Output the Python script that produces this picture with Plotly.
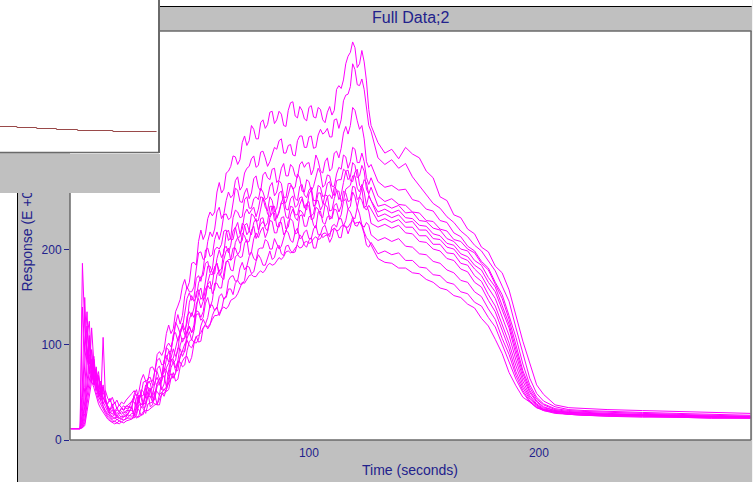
import plotly.graph_objects as go

W, H = 753, 482

# ---------------- data ----------------
time_s = [-3.5, -1, 0.5,
          1.5, 2.5, 3.5, 4.5, 5.5, 6.5, 7.5, 8.5, 9.5, 10.5,
          11.5, 12.5, 13.5, 14.5, 15.5, 16.5, 17.5, 18.5, 19.5, 20.5,
          23, 25, 27, 29, 31, 33, 35, 37, 39, 41, 43, 45, 47, 49, 51, 53, 55, 57, 59, 61,
          63, 65, 67, 69, 71, 73, 75, 77, 79, 81, 83, 85, 87, 89, 91, 93, 95, 97, 99, 101,
          103, 105, 107, 109, 111, 113, 115, 117, 119, 121, 123, 125, 127,
          130, 133, 136, 139, 142, 145, 148, 151, 154, 157, 160, 163, 166, 169, 172, 175,
          178, 181, 184, 187, 190, 193, 196, 199, 202,
          207, 213, 220, 230, 245, 260, 275, 292]

# extra samples in the noisy association phase
time_mid = [24, 26, 28, 30, 32, 34, 36, 38, 40, 42, 44, 46, 48, 50, 52, 54, 56, 58, 60, 62,
            64, 66, 68, 70, 72, 74, 76, 78, 80, 82, 84, 86, 88, 90, 92, 94, 96, 98, 100, 102,
            104, 106, 108, 110, 112, 114, 116, 118, 120, 122, 124, 126]

resp_01 = [12, 12, 12,
           140, 95, 120, 70, 85, 60, 72, 55, 62, 48, 52, 44, 40, 45, 38, 42, 36, 40, 38, 42,
           49, 46, 63, 62, 76, 72, 93, 95, 121, 117, 141, 162, 159, 186, 184, 221, 217, 240, 240, 271,
           264, 283, 299, 290, 313, 310, 331, 317, 334, 328, 345, 333, 346, 331, 347, 356, 339, 347, 336, 352,
           339, 348, 334, 351, 347, 373, 379, 404, 419, 392, 410, 378, 331,
           313, 302, 306, 296, 308, 301, 297, 283, 276, 256, 252, 237, 234, 222, 217, 203,
           198, 183, 176, 158, 131, 104, 81, 58, 48,
           37, 34, 33, 32, 31, 30, 29, 28]
mid_01 = [52, 50, 69, 63, 77, 90, 89, 112, 112, 135, 148, 169, 166, 187, 209, 211, 233, 236, 261, 260,
          281, 288, 298, 295, 320, 315, 327, 317, 337, 332, 346, 337, 343, 330, 355, 341, 351, 338, 350, 340,
          350, 337, 345, 342, 369, 370, 396, 408, 413, 396, 398, 348]

resp_02 = [12, 12, 12,
           186, 120, 90, 105, 62, 78, 55, 66, 48, 58, 42, 38, 44, 35, 40, 33, 37, 34, 36, 33,
           35, 53, 48, 62, 54, 73, 86, 80, 102, 106, 132, 131, 161, 156, 180, 198, 192, 219, 222, 245,
           238, 261, 258, 277, 267, 286, 296, 287, 303, 297, 293, 308, 315, 302, 310, 300, 315, 320, 308, 320,
           308, 327, 324, 319, 337, 328, 357, 364, 396, 374, 380, 347, 325,
           297, 290, 295, 286, 291, 277, 268, 259, 249, 244, 235, 229, 220, 214, 205, 199,
           188, 178, 162, 146, 118, 90, 65, 49, 41,
           35, 32, 31, 30, 29, 28, 27, 26]
mid_02 = [48, 43, 61, 55, 55, 84, 79, 98, 98, 122, 122, 152, 156, 161, 197, 190, 209, 214, 240, 233,
          252, 255, 273, 263, 281, 288, 299, 289, 304, 288, 302, 306, 317, 302, 311, 299, 320, 308, 319, 307,
          321, 322, 328, 319, 338, 337, 363, 372, 390, 373, 369, 331]

resp_03 = [12, 12, 12,
           60, 150, 85, 110, 70, 58, 75, 50, 60, 45, 40, 36, 32, 38, 30, 34, 29, 33, 31, 35,
           41, 37, 53, 44, 62, 73, 64, 84, 82, 111, 119, 118, 149, 147, 170, 167, 200, 193, 211, 211,
           237, 232, 249, 263, 250, 265, 260, 278, 262, 282, 274, 286, 274, 291, 278, 287, 276, 293, 291, 279,
           300, 283, 293, 283, 302, 297, 323, 322, 350, 336, 331, 293, 290,
           272, 266, 268, 263, 264, 253, 251, 243, 241, 231, 229, 218, 214, 204, 199, 188,
           181, 166, 153, 131, 108, 80, 58, 45, 38,
           33, 31, 30, 29, 28, 27, 26, 25]
mid_03 = [46, 39, 51, 61, 62, 72, 67, 89, 93, 124, 112, 135, 155, 150, 173, 179, 202, 195, 219, 221,
          238, 234, 265, 251, 260, 254, 275, 266, 279, 276, 285, 271, 286, 278, 290, 278, 290, 287, 292, 285,
          294, 281, 297, 286, 304, 307, 330, 331, 347, 327, 317, 287]

resp_04 = [12, 12, 12,
           45, 100, 135, 80, 95, 65, 52, 68, 47, 55, 40, 36, 31, 35, 28, 32, 30, 34, 32, 36,
           34, 48, 38, 55, 66, 58, 78, 71, 93, 111, 104, 123, 123, 152, 150, 172, 186, 176, 200, 201,
           220, 210, 234, 240, 235, 256, 244, 256, 265, 253, 267, 257, 273, 256, 270, 264, 280, 262, 274, 262,
           278, 281, 269, 278, 267, 287, 300, 286, 308, 292, 302, 276, 276,
           257, 251, 254, 248, 247, 240, 239, 231, 230, 222, 220, 211, 209, 201, 197, 186,
           179, 164, 149, 127, 101, 73, 55, 43, 37,
           32, 30, 29, 28, 27, 26, 25, 25]
mid_04 = [47, 40, 38, 65, 58, 75, 68, 85, 93, 113, 111, 116, 145, 146, 165, 173, 188, 180, 203, 206,
          221, 213, 242, 234, 253, 244, 254, 253, 261, 255, 271, 261, 270, 255, 270, 266, 276, 261, 272, 267,
          286, 266, 279, 267, 280, 285, 298, 293, 306, 292, 293, 269]

resp_05 = [12, 12, 12,
           30, 80, 110, 125, 75, 88, 60, 50, 42, 108, 45, 35, 30, 27, 31, 25, 29, 27, 30, 28,
           41, 33, 46, 58, 45, 61, 59, 81, 95, 86, 107, 103, 130, 130, 156, 148, 168, 183, 175, 200,
           197, 221, 211, 229, 222, 243, 242, 235, 256, 245, 256, 240, 260, 249, 258, 266, 252, 269, 255, 266,
           252, 266, 258, 272, 257, 274, 285, 274, 292, 276, 289, 264, 266,
           246, 248, 244, 247, 239, 240, 231, 230, 223, 221, 212, 209, 201, 199, 189, 184,
           171, 161, 142, 122, 95, 70, 52, 41, 35,
           31, 29, 28, 27, 26, 26, 25, 24]
mid_05 = [40, 47, 47, 55, 46, 66, 67, 97, 84, 98, 112, 108, 135, 139, 158, 151, 183, 176, 191, 192,
          218, 211, 223, 217, 238, 238, 245, 243, 255, 241, 252, 244, 262, 250, 268, 254, 267, 258, 263, 252,
          268, 256, 270, 261, 273, 274, 283, 277, 289, 278, 283, 259]

resp_06 = [12, 12, 12,
           25, 55, 95, 70, 118, 80, 62, 72, 50, 44, 38, 33, 28, 32, 26, 29, 27, 30, 28, 31,
           31, 45, 34, 49, 60, 49, 65, 59, 81, 96, 94, 120, 112, 134, 137, 160, 151, 175, 182, 178,
           201, 197, 220, 213, 228, 216, 238, 230, 243, 250, 235, 246, 239, 256, 242, 257, 247, 256, 242, 263,
           248, 260, 248, 258, 266, 253, 271, 284, 272, 285, 265, 271, 252,
           240, 243, 239, 242, 234, 233, 226, 225, 217, 215, 207, 205, 196, 193, 184, 179,
           166, 156, 137, 118, 90, 66, 50, 40, 34,
           31, 29, 28, 27, 27, 26, 25, 24]
mid_06 = [30, 44, 37, 61, 48, 60, 53, 76, 86, 88, 115, 111, 127, 129, 155, 147, 166, 174, 186, 180,
          204, 205, 224, 214, 226, 220, 236, 231, 255, 238, 246, 234, 250, 243, 254, 245, 255, 246, 259, 246,
          260, 249, 256, 254, 264, 258, 283, 273, 282, 268, 274, 258]

resp_07 = [12, 12, 12,
           20, 40, 78, 102, 66, 85, 58, 48, 55, 40, 35, 30, 27, 24, 28, 23, 26, 24, 27, 25,
           35, 28, 49, 40, 53, 42, 60, 76, 67, 85, 83, 107, 115, 113, 143, 139, 159, 159, 182, 173,
           190, 202, 192, 213, 210, 228, 216, 233, 227, 225, 246, 231, 241, 248, 233, 245, 237, 254, 249, 236,
           252, 242, 258, 241, 254, 262, 252, 266, 278, 265, 269, 247, 252,
           235, 238, 234, 237, 229, 230, 221, 221, 212, 211, 203, 201, 192, 189, 180, 173,
           160, 149, 129, 110, 84, 62, 47, 38, 33,
           30, 29, 28, 27, 26, 25, 24, 24]
mid_07 = [26, 42, 37, 52, 44, 60, 62, 73, 83, 76, 100, 107, 120, 121, 149, 146, 163, 164, 186, 176,
          199, 189, 208, 207, 226, 220, 229, 221, 230, 229, 246, 233, 250, 235, 246, 237, 248, 244, 251, 238,
          252, 247, 257, 242, 262, 251, 264, 268, 278, 261, 261, 257]

resp_08 = [12, 12, 12,
           18, 35, 60, 88, 95, 64, 77, 52, 45, 38, 42, 32, 27, 24, 22, 26, 23, 25, 24, 27,
           25, 36, 45, 35, 54, 44, 59, 52, 74, 81, 97, 88, 112, 113, 136, 129, 150, 167, 159, 179,
           169, 190, 202, 195, 218, 208, 221, 212, 233, 223, 234, 239, 224, 235, 224, 243, 231, 240, 248, 232,
           245, 236, 248, 232, 247, 240, 262, 251, 267, 253, 265, 242, 243,
           230, 233, 229, 232, 224, 224, 215, 215, 206, 206, 197, 196, 186, 184, 173, 167,
           153, 141, 121, 102, 78, 58, 45, 37, 32,
           30, 28, 27, 27, 26, 25, 25, 24]
mid_08 = [26, 47, 34, 47, 40, 57, 53, 56, 85, 84, 96, 94, 119, 116, 135, 135, 164, 154, 174, 171,
          187, 190, 202, 199, 215, 209, 225, 218, 234, 220, 239, 225, 234, 222, 237, 234, 242, 235, 246, 233,
          243, 234, 245, 235, 249, 246, 260, 252, 266, 256, 245, 247]

resp_09 = [12, 12, 12,
           15, 28, 52, 74, 60, 82, 55, 45, 50, 36, 31, 28, 25, 22, 24, 21, 23, 22, 25, 24,
           34, 26, 37, 47, 35, 51, 47, 68, 60, 82, 73, 94, 107, 105, 132, 126, 144, 139, 165, 160,
           176, 188, 178, 195, 193, 211, 198, 218, 220, 213, 231, 218, 229, 216, 230, 230, 218, 237, 225, 236,
           223, 241, 227, 236, 243, 232, 251, 243, 261, 245, 252, 247, 228,
           224, 227, 223, 226, 218, 217, 209, 208, 201, 199, 191, 189, 180, 177, 166, 161,
           147, 135, 115, 96, 72, 55, 43, 36, 32,
           29, 28, 27, 26, 26, 25, 24, 24]
mid_09 = [23, 37, 39, 50, 37, 51, 64, 56, 76, 73, 89, 93, 114, 115, 133, 129, 150, 147, 165, 160,
          188, 179, 193, 192, 207, 195, 212, 213, 224, 219, 230, 218, 229, 219, 233, 217, 236, 225, 235, 226,
          240, 229, 235, 233, 242, 237, 254, 246, 256, 256, 244, 241]

resp_10 = [12, 12, 12,
           14, 22, 45, 65, 80, 58, 68, 46, 40, 34, 30, 26, 23, 21, 19, 22, 20, 22, 21, 23,
           23, 33, 26, 39, 46, 38, 48, 46, 66, 65, 83, 77, 94, 106, 102, 120, 122, 142, 136, 151,
           148, 168, 173, 168, 187, 183, 198, 189, 202, 211, 201, 212, 201, 213, 218, 208, 223, 213, 221, 212,
           226, 216, 226, 214, 227, 233, 225, 243, 234, 245, 226, 229, 216,
           210, 213, 209, 212, 204, 203, 196, 195, 188, 186, 179, 176, 168, 166, 156, 151,
           138, 127, 107, 90, 68, 52, 41, 35, 31,
           29, 27, 26, 26, 25, 24, 24, 23]
mid_10 = [25, 32, 27, 46, 40, 37, 50, 53, 70, 70, 82, 79, 104, 103, 106, 127, 129, 142, 139, 154,
          152, 172, 167, 181, 179, 193, 191, 201, 202, 209, 201, 207, 204, 221, 210, 219, 212, 219, 212, 222,
          216, 224, 218, 225, 224, 233, 231, 240, 233, 238, 224, 226]

resp_11 = [12, 12, 12,
           13, 18, 38, 56, 70, 62, 50, 42, 37, 32, 28, 24, 21, 19, 20, 18, 20, 19, 21, 22,
           28, 23, 35, 28, 39, 48, 37, 54, 53, 71, 64, 83, 88, 87, 109, 104, 122, 121, 137, 131,
           149, 159, 153, 168, 164, 183, 175, 188, 191, 184, 199, 192, 205, 194, 205, 197, 208, 213, 203, 213,
           202, 217, 215, 208, 223, 213, 226, 217, 235, 225, 225, 205, 208,
           196, 199, 195, 197, 189, 189, 182, 181, 174, 173, 166, 164, 156, 154, 145, 141,
           129, 119, 101, 84, 64, 50, 40, 34, 31,
           28, 27, 26, 25, 25, 24, 23, 23]
mid_11 = [28, 25, 33, 38, 40, 37, 49, 51, 65, 62, 77, 87, 81, 101, 103, 118, 117, 131, 140, 137,
          150, 159, 165, 164, 168, 182, 177, 195, 184, 193, 190, 202, 196, 204, 199, 198, 216, 205, 210, 202,
          213, 213, 216, 213, 221, 213, 225, 224, 226, 230, 217, 203]

resp_12 = [12, 12, 12,
           13, 15, 30, 48, 62, 55, 45, 38, 33, 29, 25, 22, 20, 18, 17, 18, 17, 19, 18, 20,
           22, 25, 26, 31, 33, 37, 43, 49, 60, 66, 80, 93, 105, 97, 109, 113, 120, 122, 131, 133,
           140, 141, 149, 154, 166, 169, 174, 172, 178, 179, 186, 185, 192, 193, 199, 198, 205, 203, 209, 208,
           214, 212, 218, 217, 223, 221, 226, 224, 231, 229, 227, 213, 205,
           191, 187, 186, 181, 181, 176, 175, 169, 166, 160, 158, 152, 150, 143, 139, 128,
           120, 106, 91, 71, 57, 45, 40, 34, 32,
           29, 27, 26, 25, 24, 24, 23, 23]
mid_12 = [24, 24, 30, 31, 36, 38, 48, 53, 65, 71, 87, 101, 99, 104, 110, 118, 119, 127, 131, 138,
          138, 147, 150, 161, 165, 173, 172, 176, 176, 184, 184, 189, 190, 198, 197, 202, 202, 208, 207, 212,
          211, 217, 216, 221, 220, 225, 224, 228, 228, 229, 219, 210]

x_tick_values = [100, 200]
y_tick_values = [0, 100, 200]

# small overlapping window (another chart) in the top-left corner
ovl_time = [250, 262, 276, 290, 305, 330, 361]
ovl_resp = [30.0, 29.6, 29.2, 28.8, 28.4, 28.0, 28.0]

series = [(resp_01, mid_01), (resp_02, mid_02), (resp_03, mid_03), (resp_04, mid_04),
          (resp_05, mid_05), (resp_06, mid_06), (resp_07, mid_07), (resp_08, mid_08),
          (resp_09, mid_09), (resp_10, mid_10), (resp_11, mid_11), (resp_12, mid_12)]


def merged(resp, mid):
    pts = sorted(zip(time_s + time_mid, resp + mid))
    return [p[0] for p in pts], [p[1] for p in pts]


# ---------------- layout helpers (pixel geometry) ----------------
def fx(px):
    return px / W


def fy(py):
    return 1 - py / H


GRAY = "#C0C0C0"
NAVY = "#22228c"
BORDER = "#6a6a6a"
FONT = "Arial, Liberation Sans, sans-serif"

PL, PR, PT, PB = 70, 751, 31, 440   # main plot area (pixels)

fig = go.Figure()
for resp, mid in series:
    xs, ys = merged(resp, mid)
    fig.add_trace(go.Scatter(x=xs, y=ys, mode="lines",
                             line=dict(color="#FF00FF", width=1),
                             hoverinfo="skip", showlegend=False))

fig.add_trace(go.Scatter(x=ovl_time, y=ovl_resp, mode="lines", xaxis="x2", yaxis="y2",
                         line=dict(color="#9a4a4a", width=1, shape="hv"),
                         hoverinfo="skip", showlegend=False))

shapes = [
    # white outside areas
    dict(type="rect", xref="paper", yref="paper", x0=fx(0), x1=fx(17), y0=fy(H), y1=fy(192),
         fillcolor="white", line_width=0, layer="below"),
    dict(type="rect", xref="paper", yref="paper", x0=fx(159), x1=fx(W), y0=fy(6), y1=fy(0),
         fillcolor="white", line_width=0, layer="below"),
    dict(type="rect", xref="paper", yref="paper", x0=fx(752), x1=fx(W), y0=fy(H), y1=fy(0),
         fillcolor="#f4f4f4", line_width=0, layer="below"),
    # overlay window (white)
    dict(type="rect", xref="paper", yref="paper", x0=fx(0), x1=fx(158), y0=fy(152), y1=fy(0),
         fillcolor="white", line_width=0, layer="below"),
    # window frame lines
    dict(type="line", xref="paper", yref="paper", x0=fx(17.5), x1=fx(17.5), y0=fy(192), y1=fy(H),
         line=dict(color="black", width=1)),
    dict(type="line", xref="paper", yref="paper", x0=fx(160), x1=fx(751.5), y0=fy(6.5), y1=fy(6.5),
         line=dict(color="black", width=1)),
    dict(type="line", xref="paper", yref="paper", x0=fx(159), x1=fx(159), y0=fy(0), y1=fy(153),
         line=dict(color=BORDER, width=2)),
    dict(type="line", xref="paper", yref="paper", x0=fx(0), x1=fx(159), y0=fy(152.5), y1=fy(152.5),
         line=dict(color=BORDER, width=1.5)),
    # plot border (visible parts)
    dict(type="line", xref="paper", yref="paper", x0=fx(160), x1=fx(PR + 0.5), y0=fy(PT), y1=fy(PT),
         line=dict(color=BORDER, width=1.5)),
    dict(type="line", xref="paper", yref="paper", x0=fx(PR), x1=fx(PR), y0=fy(PT), y1=fy(PB),
         line=dict(color=BORDER, width=1.5)),
    dict(type="line", xref="paper", yref="paper", x0=fx(PL), x1=fx(PR), y0=fy(PB), y1=fy(PB),
         line=dict(color=BORDER, width=1.5)),
    dict(type="line", xref="paper", yref="paper", x0=fx(PL), x1=fx(PL), y0=fy(192), y1=fy(PB),
         line=dict(color=BORDER, width=1.5)),
]

annotations = [
    dict(text="Full Data;2", xref="paper", yref="paper", x=fx((PL + PR) / 2), y=fy(18),
         xanchor="center", yanchor="middle", showarrow=False,
         font=dict(family=FONT, size=16, color=NAVY)),
    dict(text="Time (seconds)", xref="paper", yref="paper", x=fx((PL + PR) / 2), y=fy(470),
         xanchor="center", yanchor="middle", showarrow=False,
         font=dict(family=FONT, size=14, color=NAVY)),
    dict(text="Response (E +00)", xref="paper", yref="paper", x=fx(26), y=fy(294),
         xanchor="center", yanchor="bottom", textangle=-90, showarrow=False,
         font=dict(family=FONT, size=14, color=NAVY)),
    # gray lower part of the overlapping window (covers the axis title)
    dict(text=" ", xref="paper", yref="paper", x=fx(0), y=fy(153.5),
         xanchor="left", yanchor="top", width=160, height=39, bgcolor=GRAY,
         borderpad=0, borderwidth=0, showarrow=False),
]

fig.update_layout(
    width=W, height=H,
    margin=dict(l=0, r=0, t=0, b=0, autoexpand=False),
    paper_bgcolor=GRAY, plot_bgcolor="white",
    showlegend=False,
    xaxis=dict(domain=[fx(PL), fx(PR)], range=[-3.9, 292.2], anchor="y", automargin=False,
               tickvals=x_tick_values, ticks="outside", ticklen=2, tickcolor="rgba(0,0,0,0)",
               showgrid=False, zeroline=False, showline=False,
               tickfont=dict(family=FONT, size=12, color=NAVY)),
    yaxis=dict(domain=[fy(PB), fy(PT)], range=[0, 430.5], anchor="x", automargin=False,
               tickvals=y_tick_values, ticks="outside", ticklen=5, tickcolor=NAVY, tickwidth=1,
               showgrid=False, zeroline=False, showline=False,
               tickfont=dict(family=FONT, size=12, color=NAVY)),
    xaxis2=dict(domain=[fx(0), fx(158)], range=[250, 362], anchor="y2", visible=False,
                automargin=False),
    yaxis2=dict(domain=[fy(152), fy(0)], range=[19.8, 80.6], anchor="x2", visible=False,
                automargin=False),
    shapes=shapes,
    annotations=annotations,
)

fig.write_html("out.html")
